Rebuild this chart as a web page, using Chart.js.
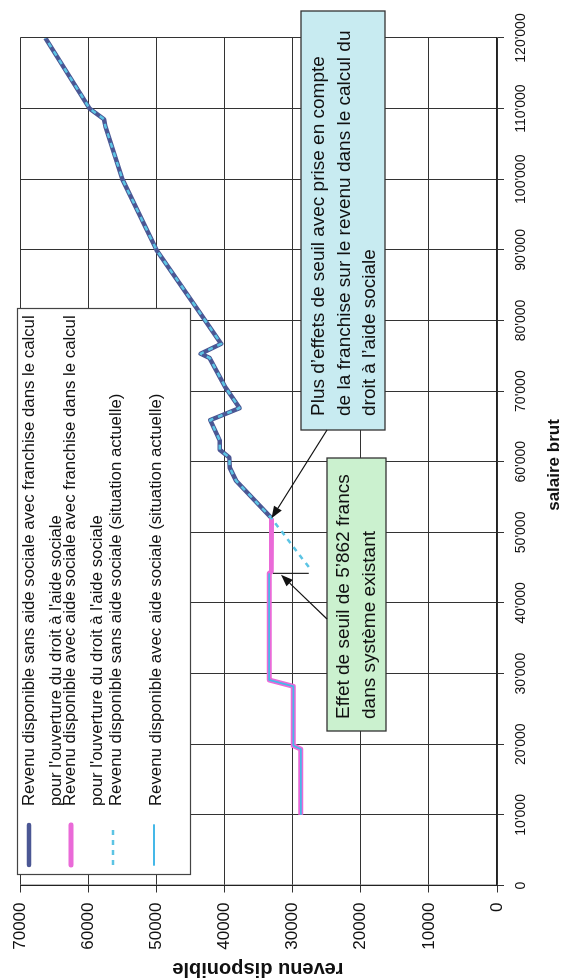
<!DOCTYPE html>
<html><head><meta charset="utf-8">
<script src="https://cdn.jsdelivr.net/npm/chart.js@4/dist/chart.umd.min.js"></script>
<style>
html,body{margin:0;padding:0;background:#fff;width:568px;height:979px;overflow:hidden;}
#wrap{position:absolute;left:0;top:0;width:979px;height:568px;transform-origin:0 0;transform:translate(0,979px) rotate(-90deg);}
</style></head><body>
<div id="wrap"><canvas id="c" width="979" height="568"></canvas></div>
<script>
// ---- data ----
const salaireTickLabels = ["0","10'000","20'000","30'000","40'000","50'000","60'000","70'000","80'000","90'000","100'000","110'000","120'000"];
const revenuTickLabels = ["0","10000","20000","30000","40000","50000","60000","70000"];

const salaireSansAideFranchise = [52000, 57300, 59200, 60600, 61700, 63000, 65900, 67600, 70500, 74700, 75300, 76700, 81500, 90000, 100000, 107500, 108500, 110000, 120000];
const revenuSansAideFranchise  = [33100, 38300, 39250, 39300, 40700, 40700, 42100, 37800, 39850, 42200, 43500, 40500, 43900, 50000, 55000, 57500, 57700, 59800, 66300];

const salaireAvecAideFranchise = [10000, 19300, 19800, 28200, 29100, 44200, 44400, 52000];
const revenuAvecAideFranchise  = [28800, 28800, 29900, 29900, 33450, 33450, 33150, 33100];

const salaireSansAideActuel = [45100, 52000, 57300, 59200, 60600, 61700, 63000, 65900, 67600, 70500, 74700, 75300, 76700, 81500, 90000, 100000, 107500, 108500, 110000, 120000];
const revenuSansAideActuel  = [27650, 33100, 38300, 39250, 39300, 40700, 40700, 42100, 37800, 39850, 42200, 43500, 40500, 43900, 50000, 55000, 57500, 57700, 59800, 66300];

const salaireAvecAideActuel = [10000, 19300, 19800, 28200, 29100, 44200];
const revenuAvecAideActuel  = [28800, 28800, 29900, 29900, 33450, 33450];

const seriesNames = [
  ["Revenu disponible sans aide sociale avec franchise dans le calcul", "pour l'ouverture du droit à l'aide sociale"],
  ["Revenu disponible avec aide sociale avec franchise dans le calcul", "pour l'ouverture du droit à l'aide sociale"],
  ["Revenu disponible sans aide sociale (situation actuelle)"],
  ["Revenu disponible avec aide sociale (situation actuelle)"]
];
const noteSeuilNouveau = ["Plus d\u2019effets de seuil avec prise en compte", "de la franchise sur le revenu dans le calcul du", "droit à l\u2019aide sociale"];
const noteSeuilActuel = ["Effet de seuil de 5\u2019862 francs", "dans système existant"];
const seuilSalaire = 44200;
const seuilRevenu = [27650, 32900];
const arrowNouveauPoint = [52000, 33100];
const arrowActuelPoint = [44000, 31700];

const FONT = "'Liberation Sans', Arial, sans-serif";

function pts(xs, ys){ return xs.map((x,i)=>({x:x, y:ys[i]})); }

const datasets = [
  {label: seriesNames[0].join(' '), data: pts(salaireSansAideFranchise, revenuSansAideFranchise), borderColor:'#4b5794', borderWidth:4.5, order:4},
  {label: seriesNames[1].join(' '), data: pts(salaireAvecAideFranchise, revenuAvecAideFranchise), borderColor:'#ea6ad8', borderWidth:5, order:3},
  {label: seriesNames[2].join(' '), data: pts(salaireSansAideActuel, revenuSansAideActuel), borderColor:'#5cc4e4', borderWidth:2.5, borderDash:[5,5], order:2},
  {label: seriesNames[3].join(' '), data: pts(salaireAvecAideActuel, revenuAvecAideActuel), borderColor:'#45b8e8', borderWidth:1.8, order:1}
];
datasets.forEach(d=>{d.showLine=true; d.pointRadius=0; d.fill=false; d.tension=0; d.borderJoinStyle='round';});

function arrow(ctx, x1, y1, x2, y2){
  ctx.save();
  ctx.strokeStyle='#111'; ctx.fillStyle='#111'; ctx.lineWidth=1.1; ctx.setLineDash([]);
  const a=Math.atan2(y2-y1,x2-x1), L=12, W=4.5;
  const bx=x2-L*Math.cos(a), by=y2-L*Math.sin(a);
  ctx.beginPath(); ctx.moveTo(x1,y1); ctx.lineTo(bx,by); ctx.stroke();
  ctx.beginPath(); ctx.moveTo(x2,y2);
  ctx.lineTo(bx+W*Math.sin(a), by-W*Math.cos(a));
  ctx.lineTo(bx-W*Math.sin(a), by+W*Math.cos(a));
  ctx.closePath(); ctx.fill();
  ctx.restore();
}

const decor = {
  id:'decor',
  afterDatasetsDraw(chart){
    const ctx=chart.ctx, xs=chart.scales.x, ys=chart.scales.y;
    ctx.save();
    // threshold marker
    ctx.strokeStyle='#111'; ctx.lineWidth=1.1;
    ctx.beginPath();
    ctx.moveTo(xs.getPixelForValue(seuilSalaire), ys.getPixelForValue(seuilRevenu[0]));
    ctx.lineTo(xs.getPixelForValue(seuilSalaire), ys.getPixelForValue(seuilRevenu[1]));
    ctx.stroke();

    // legend
    ctx.fillStyle='#fff'; ctx.fillRect(104.5,17.5,566,173);
    ctx.strokeStyle='#444'; ctx.lineWidth=1.2; ctx.strokeRect(104.5,17.5,566,173);
    const symV=[29,71,113,154];
    const textV=[[29,56],[70.6,97],[116],[156.5]];
    chart.data.datasets.forEach((d,i)=>{
      ctx.save();
      ctx.strokeStyle=d.borderColor; ctx.lineWidth=d.borderWidth; ctx.setLineDash(d.borderDash||[]);
      ctx.lineCap = d.borderDash ? 'butt' : 'round';
      ctx.beginPath(); ctx.moveTo(114,symV[i]); ctx.lineTo(154,symV[i]); ctx.stroke();
      ctx.restore();
      ctx.fillStyle='#111'; ctx.font='16.8px '+FONT; ctx.textBaseline='middle'; ctx.textAlign='left';
      seriesNames[i].forEach((t,j)=>ctx.fillText(t,173,textV[i][j]));
    });

    // blue note
    ctx.fillStyle='#c8ebf1'; ctx.fillRect(549,301,419,84);
    ctx.strokeStyle='#333'; ctx.lineWidth=1.3; ctx.strokeRect(549,301,419,84);
    ctx.fillStyle='#111'; ctx.font='19px '+FONT; ctx.textBaseline='middle';
    [319,345,370].forEach((v,j)=>ctx.fillText(noteSeuilNouveau[j],563,v));
    // green note
    ctx.fillStyle='#cbf1cf'; ctx.fillRect(248,327,273,59);
    ctx.strokeStyle='#333'; ctx.strokeRect(248,327,273,59);
    ctx.fillStyle='#111';
    [344,370].forEach((v,j)=>ctx.fillText(noteSeuilActuel[j],260,v));

    arrow(ctx, 549, 327, xs.getPixelForValue(arrowNouveauPoint[0]), ys.getPixelForValue(arrowNouveauPoint[1]));
    arrow(ctx, 360, 327, xs.getPixelForValue(arrowActuelPoint[0]), ys.getPixelForValue(arrowActuelPoint[1]));

    // axis titles
    ctx.fillStyle='#111'; ctx.textAlign='center'; ctx.textBaseline='middle';
    ctx.save(); ctx.translate(10,258); ctx.rotate(-Math.PI/2);
    ctx.font='bold 20px '+FONT; ctx.fillText('revenu disponible',0,0); ctx.restore();
    ctx.font='bold 17px '+FONT; ctx.fillText('salaire brut',514,554);
    ctx.restore();
  }
};

new Chart(document.getElementById('c'), {
  type:'scatter',
  data:{datasets},
  options:{
    responsive:false, animation:false, devicePixelRatio:1,
    layout:{padding:{left:0,right:38,top:18,bottom:0}},
    plugins:{legend:{display:false}, tooltip:{enabled:false}},
    scales:{
      x:{type:'linear', min:0, max:120000,
        afterFit(s){ s.height=71; },
        ticks:{stepSize:10000, color:'#111', font:{family:FONT,size:14}, padding:9, maxRotation:0,
          callback:(v)=>salaireTickLabels[Math.round(v/10000)]},
        grid:{color:'#333', lineWidth:1, tickLength:7},
        border:{color:'#222', width:1.3},
        title:{display:false}},
      y:{type:'linear', min:0, max:70000,
        afterFit(s){ s.width=93.5; },
        ticks:{stepSize:10000, color:'#111', font:{family:FONT,size:17}, padding:10,
          callback:(v)=>revenuTickLabels[Math.round(v/10000)]},
        grid:{color:'#333', lineWidth:1, tickLength:7},
        border:{color:'#222', width:1.3},
        title:{display:false}}
    }
  },
  plugins:[decor]
});
</script>
</body></html>
